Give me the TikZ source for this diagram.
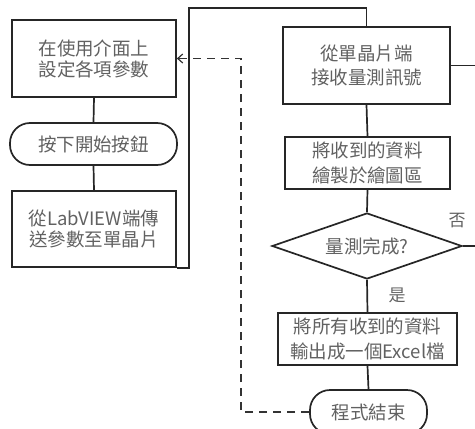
\documentclass[tikz,border=0pt]{standalone}
\usepackage{fontspec}
\setmainfont{Noto Sans CJK TC}
\usetikzlibrary{shapes.geometric,arrows.meta}
\begin{document}
\begin{tikzpicture}[x=1pt,y=-1pt,
  every node/.style={text=black!62, font=\fontsize{18.5}{21}\selectfont, align=center},
  stepbox/.style={draw=black!85, line width=1.7pt, rectangle, inner sep=0pt},
  termbox/.style={draw=black!85, line width=1.7pt, rectangle, rounded corners=20pt, inner sep=0pt},
  decbox/.style={draw=black!85, line width=1.7pt, diamond, inner sep=0pt, aspect=2.88},
  wideline/.style={font=\fontsize{18.5}{24.5}\selectfont},
  conn/.style={draw=black!85, line width=1.7pt},
  dashconn/.style={draw=black!80, line width=1.4pt, dash pattern=on 8pt off 6pt},
  lbl/.style={text=black!62, font=\fontsize{17}{20}\selectfont}
]
\useasboundingbox (0,0) rectangle (475,429);
\begin{scope}
\clip (0,0) rectangle (475,429);
\node[stepbox, minimum width=164pt, minimum height=77pt] (b1) at (94,58.5) {在使用介面上\\設定各項參數};
\node[termbox, minimum width=167pt, minimum height=42pt] (t1) at (93.5,144) {按下開始按鈕};
\node[stepbox, minimum width=164pt, minimum height=76pt] (b3) at (94,229) {從LabVIEW端傳\\送參數至單晶片};
\node[stepbox, wideline, minimum width=167pt, minimum height=77pt] (b4) at (366.5,65.5) {從單晶片端\\接收量測訊號};
\node[stepbox, wideline, minimum width=165pt, minimum height=52pt] (b5) at (367.5,163) {將收到的資料\\繪製於繪圖區};
\node[decbox, minimum width=190pt, minimum height=66pt] (d) at (367,246) {量測完成?};
\node[stepbox, wideline, minimum width=179pt, minimum height=52pt] (b6) at (367.5,339) {將所有收到的資料\\輸出成一個Excel檔};
\node[termbox, minimum width=117pt, minimum height=44pt] (t2) at (368.5,412) {程式結束};
\node[lbl] (no) at (457,221) {否};
\node[lbl] (yes) at (397,295) {是};

\coordinate (c1) at (189,8);
\coordinate (e1) at (476,65.5);
\coordinate (e2) at (476,246);
\coordinate (cd) at (241,58.5);

\draw[conn] (b1.south) -- (t1.north);
\draw[conn] (t1.south) -- (b3.north);
\draw[conn] (b3.south east) -| (c1) -| (b4.north);
\draw[conn] (b4.east) -- (e1);
\draw[conn] (b4.south) -- (b5.north);
\draw[conn] (b5.south) -- (d.north);
\draw[conn] (d.east) -- (e2);
\draw[conn] (d.south) -- (b6.north);
\draw[conn] (b6.south) -- (t2.north);
\draw[dashconn, -{Straight Barb[length=5pt,width=9pt,line width=1.2pt]}] (t2.west) -| (cd) -- (b1.east);
\end{scope}
\end{tikzpicture}
\end{document}
